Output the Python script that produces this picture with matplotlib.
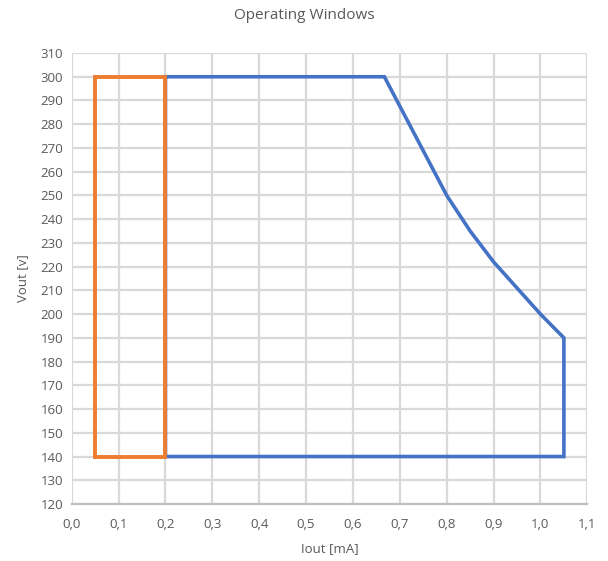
import matplotlib
matplotlib.use('Agg')
import matplotlib.pyplot as plt
from matplotlib.ticker import MultipleLocator, FuncFormatter

plt.rcParams['font.family'] = ['Open Sans', 'DejaVu Sans']

# blue window (closed outline, constant power part on the right)
blue_i = [0.2, 0.667, 0.8, 0.85, 0.9, 0.95, 1.0, 1.05, 1.05, 0.2, 0.2]
blue_v = [300, 300, 250, 235, 222, 211, 200, 190, 140, 140, 300]

# orange window
orange_i = [0.05, 0.05, 0.2, 0.2, 0.05]
orange_v = [140, 300, 300, 140, 140]

fig = plt.figure(figsize=(6.08, 5.61), dpi=100)
ax = fig.add_axes([0.118, 0.1016, 0.848, 0.8039])

ax.plot(blue_i, blue_v, color='#4472C4', lw=2.6, solid_joinstyle='miter')
ax.plot(orange_i, orange_v, color='#ED7D31', lw=2.8, solid_joinstyle='miter')

ax.set_xlim(0, 1.1)
ax.set_ylim(120, 310)
ax.xaxis.set_major_locator(MultipleLocator(0.1))
ax.yaxis.set_major_locator(MultipleLocator(10))
ax.xaxis.set_major_formatter(FuncFormatter(lambda x, p: ('%.1f' % x).replace('.', ',')))
ax.grid(True, color='#d9d9d9', lw=1.6)
ax.set_axisbelow(True)
for s in ['top', 'right', 'left']:
    ax.spines[s].set_visible(False)
ax.spines['bottom'].set_color('#bfbfbf')
ax.spines['bottom'].set_linewidth(1.6)
ax.tick_params(length=0, labelsize=9.5, labelcolor='#595959', pad=6)
ax.tick_params(axis='x', pad=10)

ax.set_xlabel('Iout [mA]', fontsize=9.5, color='#595959', labelpad=8)
ax.set_ylabel('Vout [v]', fontsize=9.5, color='#595959', labelpad=8)
fig.suptitle('Operating Windows', fontsize=11, color='#595959', y=0.985)

fig.savefig('out.png', dpi=100)
